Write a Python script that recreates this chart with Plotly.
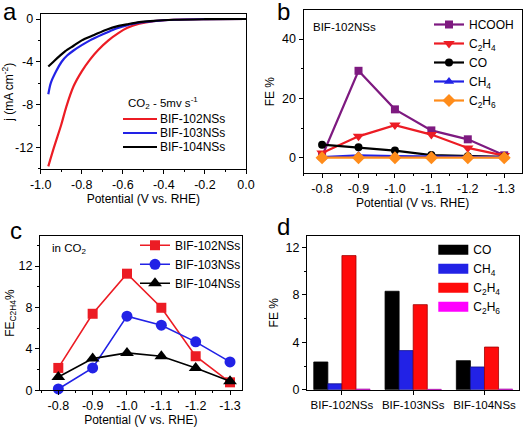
import plotly.graph_objects as go

W, H = 524, 427
FONT = "Arial, 'Liberation Sans', sans-serif"

def px(x):
    return x / W

def py(y):
    return 1 - y / H

# ---------------- data ----------------
# Panel a: LSV (potential V vs RHE, j mA cm-2)
lsv_102_v = [-0.963, -0.935, -0.90, -0.875, -0.84, -0.80, -0.76, -0.72, -0.67, -0.62, -0.58, -0.52, -0.45, -0.35, -0.2, 0.0]
lsv_102_j = [-13.8, -12.0, -9.9, -8.2, -6.3, -4.9, -3.8, -2.9, -2.0, -1.3, -0.85, -0.45, -0.2, -0.07, -0.02, 0.0]
lsv_103_v = [-0.963, -0.951, -0.925, -0.898, -0.87, -0.84, -0.80, -0.76, -0.70, -0.646, -0.60, -0.565, -0.50, -0.45, -0.35, -0.2, 0.0]
lsv_103_j = [-7.05, -6.0, -4.9, -4.0, -3.4, -2.95, -2.45, -2.0, -1.45, -1.0, -0.7, -0.5, -0.3, -0.2, -0.07, -0.02, 0.0]
lsv_104_v = [-0.963, -0.938, -0.91, -0.88, -0.84, -0.80, -0.74, -0.68, -0.62, -0.58, -0.52, -0.466, -0.35, -0.2, 0.0]
lsv_104_j = [-4.45, -4.0, -3.5, -3.0, -2.5, -2.0, -1.5, -1.0, -0.65, -0.5, -0.3, -0.2, -0.07, -0.02, 0.0]

# Panels b, c: potentials
potentials = [-0.8, -0.9, -1.0, -1.1, -1.2, -1.3]
potential_labels = ["-0.8", "-0.9", "-1.0", "-1.1", "-1.2", "-1.3"]

# Panel b: BIF-102NSs product FE %
fe_hcooh = [0.5, 29.3, 16.3, 9.2, 6.2, 0.8]
fe_c2h4_b = [1.6, 7.2, 11.0, 7.8, 3.3, 0.7]
fe_co_b = [4.4, 3.5, 2.4, 0.9, 0.5, 0.3]
fe_ch4_b = [0.2, 0.8, 0.5, 0.5, 0.3, 0.2]
fe_c2h6_b = [0.0, 0.0, 0.0, 0.0, 0.0, 0.0]

# Panel c: FE C2H4 %
fe_c2h4_102 = [2.16, 7.39, 11.26, 7.97, 3.29, 0.77]
fe_c2h4_103 = [0.13, 2.16, 7.16, 6.29, 4.68, 2.74]
fe_c2h4_104 = [1.29, 3.06, 3.61, 3.29, 2.16, 0.87]

# Panel d: FE % at -1.0 V
catalysts = ["BIF-102NSs", "BIF-103NSs", "BIF-104NSs"]
fe_co_d = [2.34, 8.31, 2.45]
fe_ch4_d = [0.5, 3.3, 1.92]
fe_c2h4_d = [11.32, 7.18, 3.6]
fe_c2h6_d = [0.05, 0.03, 0.05]

# axis tick labels
a_xvals = [-1.0, -0.8, -0.6, -0.4, -0.2, 0.0]
a_xlabels = ["-1.0", "-0.8", "-0.6", "-0.4", "-0.2", "0.0"]
a_yvals = [0, -4, -8, -12]
a_ylabels = ["0", "-4", "-8", "-12"]

RED = "#ec1c24"
BLUE = "#2222e6"
BLACK = "#000000"
PURPLE = "#7e1a80"
ORANGE = "#ff8c1a"
MAGENTA = "#ff00ff"

fig = go.Figure()

# ---- panel a ----
for v, j, c, n in [(lsv_102_v, lsv_102_j, RED, "BIF-102NSs"),
                   (lsv_103_v, lsv_103_j, BLUE, "BIF-103NSs"),
                   (lsv_104_v, lsv_104_j, BLACK, "BIF-104NSs")]:
    fig.add_trace(go.Scatter(x=v, y=j, mode="lines", name=n, showlegend=False,
                             line=dict(color=c, width=2.2, shape="spline", smoothing=0.8),
                             xaxis="x", yaxis="y"))

# ---- panel b ----
b_series = [
    ("HCOOH", fe_hcooh, PURPLE, "square", 8),
    ("C<sub>2</sub>H<sub>4</sub>", fe_c2h4_b, RED, "triangle-down", 10),
    ("CO", fe_co_b, BLACK, "circle", 8),
    ("CH<sub>4</sub>", fe_ch4_b, BLUE, "triangle-up", 9),
    ("C<sub>2</sub>H<sub>6</sub>", fe_c2h6_b, ORANGE, "diamond", 10),
]
for name, vals, col, sym, sz in b_series:
    fig.add_trace(go.Scatter(x=potentials, y=vals, mode="lines+markers", name=name,
                             line=dict(color=col, width=2.2),
                             marker=dict(symbol=sym, size=sz, color=col),
                             cliponaxis=False, xaxis="x2", yaxis="y2", legend="legend2"))

# ---- panel c ----
c_series = [
    ("BIF-102NSs", fe_c2h4_102, RED, "square", 10),
    ("BIF-103NSs", fe_c2h4_103, BLUE, "circle", 11),
    ("BIF-104NSs", fe_c2h4_104, BLACK, "triangle-up", 12),
]
for name, vals, col, sym, sz in c_series:
    fig.add_trace(go.Scatter(x=potentials, y=vals, mode="lines+markers", name=name,
                             line=dict(color=col, width=1.6),
                             marker=dict(symbol=sym, size=sz, color=col),
                             cliponaxis=False, xaxis="x3", yaxis="y3", legend="legend3"))

# ---- panel d ----
d_series = [
    ("CO", fe_co_d, BLACK, "#000000"),
    ("CH<sub>4</sub>", fe_ch4_d, BLUE, "#10108a"),
    ("C<sub>2</sub>H<sub>4</sub>", fe_c2h4_d, "#ff0a0a", "#a00000"),
    ("C<sub>2</sub>H<sub>6</sub>", fe_c2h6_d, MAGENTA, "#a000a0"),
]
for name, vals, col, edge in d_series:
    fig.add_trace(go.Bar(x=catalysts, y=vals, name=name, showlegend=False,
                         marker=dict(color=col, line=dict(color=edge, width=0.8)),
                         xaxis="x4", yaxis="y4"))
    # legend swatch (wide rectangle like the original)
    fig.add_trace(go.Scatter(x=[None], y=[None], mode="lines", name=name,
                             line=dict(color=col, width=13),
                             xaxis="x4", yaxis="y4", legend="legend4"))

fig.update_layout(barmode="group", bargap=0.21, bargroupgap=0)

axis_common = dict(showline=True, linecolor="black", linewidth=1, mirror=True,
                   ticks="outside", ticklen=4, tickwidth=1, tickcolor="black",
                   showgrid=False, zeroline=False, automargin=False,
                   tickfont=dict(family=FONT, size=12.5, color="black"))
title_font = dict(family=FONT, size=12, color="black")

fig.update_layout(
    width=W, height=H,
    margin=dict(l=0, r=0, t=0, b=0),
    paper_bgcolor="white", plot_bgcolor="white",
    font=dict(family=FONT, size=12, color="black"),
    # panel a
    xaxis=dict(axis_common, domain=[px(40.7), px(246)], range=[-1.0, 0.0],
               tickmode="array", tickvals=a_xvals, ticktext=a_xlabels,
               minor=dict(dtick=0.1, tick0=0, ticklen=2, ticks="outside", tickcolor="black"),
               title=dict(text="Potential (V vs. RHE)", font=title_font, standoff=3),
               anchor="y"),
    yaxis=dict(axis_common, domain=[py(169.3), py(14.3)], range=[-14.07, 0.44],
               tickmode="array", tickvals=a_yvals, ticktext=a_ylabels,
               minor=dict(dtick=2, tick0=0, ticklen=2, ticks="outside", tickcolor="black"),
               title=dict(text="j (mA cm<sup>-2</sup>)", font=title_font, standoff=2),
               anchor="x"),
    # panel b
    xaxis2=dict(axis_common, domain=[px(303.5), px(521.7)], range=[-0.749, -1.348],
                tickmode="array", tickvals=potentials, ticktext=potential_labels,
                minor=dict(dtick=0.05, tick0=0, ticklen=2, ticks="outside", tickcolor="black"),
                title=dict(text="Potential (V vs. RHE)", font=title_font, standoff=3),
                anchor="y2"),
    yaxis2=dict(axis_common, domain=[py(173.3), py(10)], range=[-5.26, 49.8],
                tickmode="linear", tick0=0, dtick=20,
                minor=dict(dtick=10, tick0=0, ticklen=2, ticks="outside", tickcolor="black"),
                title=dict(text="FE %", font=title_font, standoff=4),
                anchor="x2"),
    # panel c
    xaxis3=dict(axis_common, domain=[px(40), px(241.7)], range=[-0.7467, -1.334],
                tickmode="array", tickvals=potentials, ticktext=potential_labels,
                minor=dict(dtick=0.05, tick0=0, ticklen=2, ticks="outside", tickcolor="black"),
                title=dict(text="Potential (V vs. RHE)", font=title_font, standoff=4),
                anchor="y3"),
    yaxis3=dict(axis_common, domain=[py(390.3), py(236)], range=[0, 14.9],
                tickmode="linear", tick0=0, dtick=4,
                minor=dict(dtick=2, tick0=0, ticklen=2, ticks="outside", tickcolor="black"),
                title=dict(text="FE<sub>C2H4</sub>%", font=title_font, standoff=1),
                anchor="x3"),
    # panel d
    xaxis4=dict(axis_common, domain=[px(307), px(518.7)], type="category",
                range=[-0.49, 2.48], anchor="y4",
                tickfont=dict(family=FONT, size=11.5, color="black")),
    yaxis4=dict(axis_common, domain=[py(389.7), py(235.7)], range=[0, 13],
                tickmode="linear", tick0=0, dtick=4,
                minor=dict(dtick=2, tick0=0, ticklen=2, ticks="outside", tickcolor="black"),
                title=dict(text="FE %", font=title_font, standoff=4),
                anchor="x4"),
    showlegend=True,
    legend2=dict(x=px(429), y=py(10), xanchor="left", yanchor="top",
                 bgcolor="rgba(0,0,0,0)", borderwidth=0,
                 font=dict(family=FONT, size=12, color="black")),
    legend3=dict(x=px(135), y=py(230.8), xanchor="left", yanchor="top",
                 bgcolor="rgba(0,0,0,0)", borderwidth=0,
                 font=dict(family=FONT, size=12, color="black")),
    legend4=dict(x=px(433.3), y=py(235.3), xanchor="left", yanchor="top",
                 bgcolor="rgba(0,0,0,0)", borderwidth=0,
                 font=dict(family=FONT, size=12, color="black")),
)

# manual legend for panel a (compact spacing as in the original)
a_legend = [("BIF-102NSs", RED, 119), ("BIF-103NSs", BLUE, 133), ("BIF-104NSs", BLACK, 147)]
for name, col, yy in a_legend:
    fig.add_shape(type="line", xref="paper", yref="paper",
                  x0=px(123), x1=px(157), y0=py(yy), y1=py(yy),
                  line=dict(color=col, width=2.2))
    fig.add_annotation(text=name, xref="paper", yref="paper", x=px(158), y=py(yy),
                       xanchor="left", yanchor="middle", showarrow=False,
                       font=dict(family=FONT, size=12, color="black"))
fig.add_annotation(text="CO<sub>2</sub> - 5mv s<sup>-1</sup>", xref="paper", yref="paper",
                   x=px(126), y=py(103), xanchor="left", yanchor="middle", showarrow=False,
                   font=dict(family=FONT, size=11.5, color="black"))

# in-panel labels
fig.add_annotation(text="BIF-102NSs", xref="paper", yref="paper", x=px(311), y=py(27.5),
                   xanchor="left", yanchor="middle", showarrow=False,
                   font=dict(family=FONT, size=11.5, color="black"))
fig.add_annotation(text="in CO<sub>2</sub>", xref="paper", yref="paper", x=px(50), y=py(249),
                   xanchor="left", yanchor="middle", showarrow=False,
                   font=dict(family=FONT, size=11.5, color="black"))

# panel letters
for letter, xx, yy in [("a", 1, 11), ("b", 275, 11), ("c", 8, 230), ("d", 275, 226)]:
    fig.add_annotation(text=letter, xref="paper", yref="paper", x=px(xx), y=py(yy),
                       xanchor="left", yanchor="middle", showarrow=False,
                       font=dict(family=FONT, size=24, color="black"))

fig.write_html("out.html", config={"displayModeBar": False},
               post_script="document.body.style.margin='0';document.body.style.padding='0';")
